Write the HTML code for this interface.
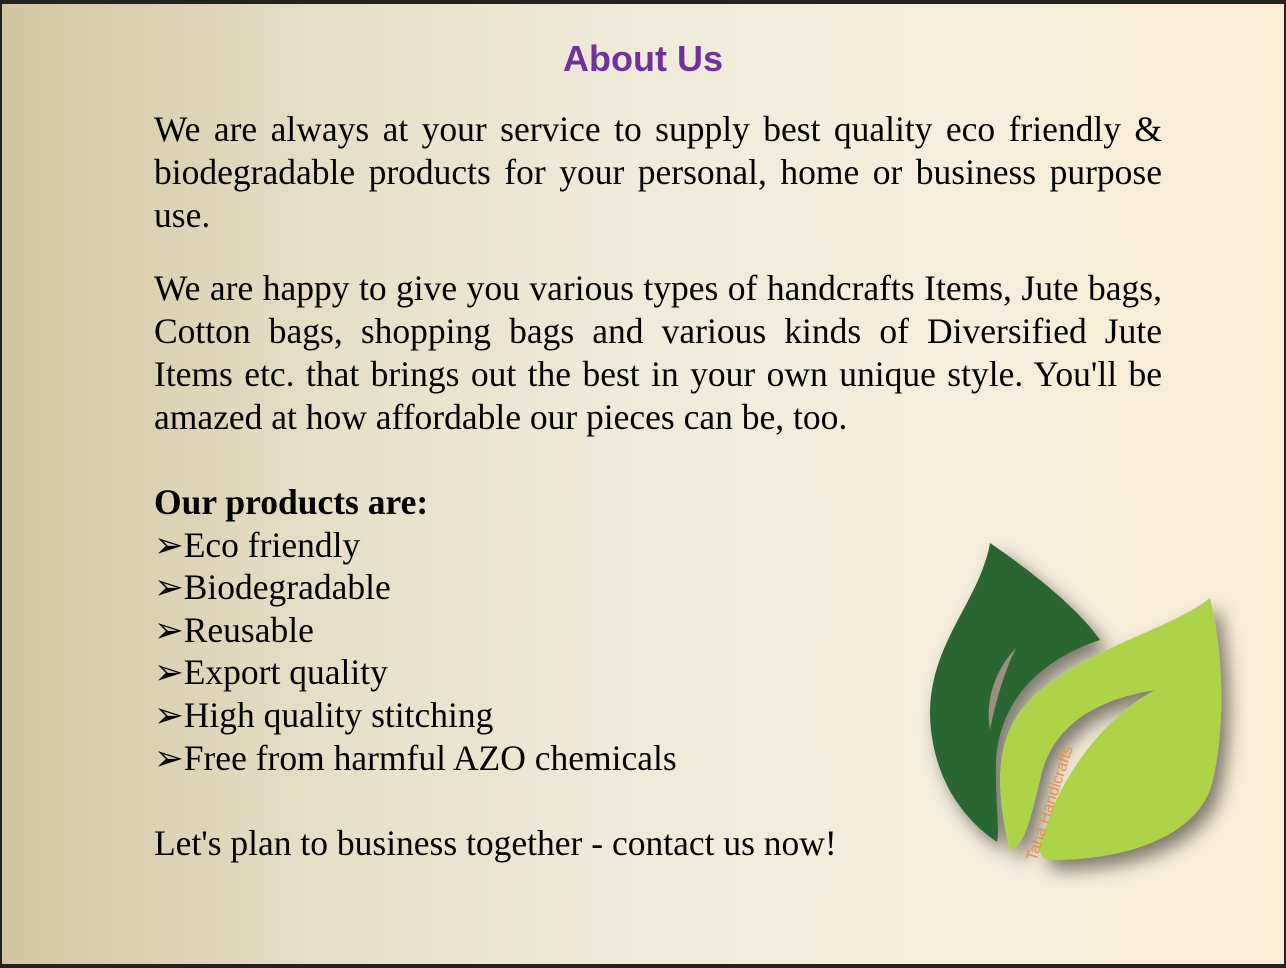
<!DOCTYPE html>
<html><head><meta charset="utf-8"><style>
html,body{margin:0;padding:0;}
body{width:1286px;height:968px;background:#222;position:relative;overflow:hidden;}
#slide{position:absolute;left:2px;top:4px;width:1282px;height:960px;background:linear-gradient(90deg,#d2c5a2 0%,#e6dfc6 25%,#f0ebd9 50%,#f5eedb 75%,#faedd4 100%);}
h1{position:absolute;left:0;width:1282px;top:34px;margin:0;text-align:center;font:bold 36px "Liberation Sans",sans-serif;color:#7030a0;}
.p{position:absolute;left:152px;width:1008px;font:35.5px/43px "Liberation Serif",serif;color:#000;text-align:justify;margin:0;}
.l{position:absolute;left:152px;font:35.5px/43px "Liberation Serif",serif;color:#000;white-space:nowrap;margin:0;}
</style></head><body>
<div id="slide">
<h1>About Us</h1>
<p class="p" style="top:104px">We are always at your service to supply best quality eco friendly &amp; biodegradable products for your personal, home or business purpose use.</p>
<p class="p" style="top:263px">We are happy to give you various types of handcrafts Items, Jute bags, Cotton bags, shopping bags and various kinds of Diversified Jute Items etc. that brings out the best in your own unique style. You'll be amazed at how affordable our pieces can be, too.</p>
<p class="l" style="top:477px;font-weight:bold">Our products are:</p>
<p class="l" style="top:520px">➢Eco friendly</p>
<p class="l" style="top:562px">➢Biodegradable</p>
<p class="l" style="top:605px">➢Reusable</p>
<p class="l" style="top:647px">➢Export quality</p>
<p class="l" style="top:690px">➢High quality stitching</p>
<p class="l" style="top:733px">➢Free from harmful AZO chemicals</p>
<p class="l" style="top:818px">Let's plan to business together - contact us now!</p>
</div>
<svg width="1286" height="968" style="position:absolute;left:0;top:0">
<defs><filter id="sh" x="-30%" y="-30%" width="160%" height="160%"><feGaussianBlur in="SourceAlpha" stdDeviation="9"/><feOffset dx="8" dy="10"/><feComponentTransfer><feFuncA type="linear" slope="0.5"/></feComponentTransfer><feMerge><feMergeNode/><feMergeNode in="SourceGraphic"/></feMerge></filter></defs>
<g filter="url(#sh)">
<path d="M990,543 C1030,570 1080,610 1100,640 C1040,660 1000,700 996,760 C995,800 1000,830 997,842 C950,810 930,760 930,710 C932,640 980,600 990,543 Z" fill="#2b6630"/>
<path d="M1016,648 C995,670 985,700 990,730 C996,700 1005,670 1016,648 Z" fill="#9a9080"/>
<path d="M1210,598 C1225,660 1225,740 1210,790 C1190,840 1120,860 1050,860 C1040,860 1035,845 1045,830 C1060,780 1100,720 1155,690 C1090,700 1050,730 1040,780 C1030,820 1025,845 1010,850 C998,800 990,740 1030,700 C1080,650 1170,630 1210,598 Z" fill="#add44a"/>
</g>
<text x="0" y="0" transform="translate(1036,862) rotate(-72)" font-family="Liberation Sans,sans-serif" font-size="16" fill="#e8904a">Taha Handicrafts</text>
</svg>
</body></html>
